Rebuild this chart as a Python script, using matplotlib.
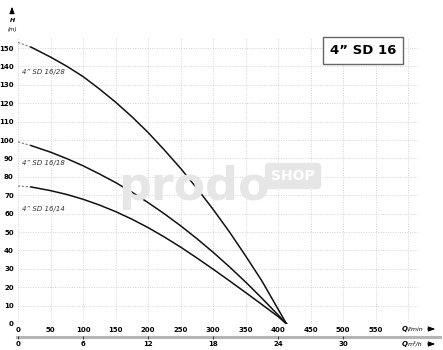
import matplotlib
matplotlib.use("Agg")
import matplotlib.pyplot as plt
from matplotlib.lines import Line2D

# flow in l/min and head in m
q = [0, 20, 50, 75, 100, 125, 150, 175, 200, 225, 250, 275, 300, 325, 350, 375, 400, 413]
h_28 = [153, 150.5, 145.1, 140.1, 134.5, 127.8, 120.6, 112.7, 104.1, 94.6, 84.6, 73.8, 62.3, 50.1, 37, 23.4, 8, 0]
h_18 = [99, 97, 93.4, 89.9, 86, 81.6, 76.9, 71.7, 66, 59.9, 53.4, 46.4, 39, 31.1, 22.8, 14, 4.9, 0]
h_14 = [75, 74.5, 72.5, 70.4, 67.8, 64.7, 61.1, 57, 52.4, 47.3, 41.8, 35.9, 29.8, 23.5, 17.1, 10.6, 4, 0]
names = ["4\u201d SD 16/28", "4\u201d SD 16/18", "4\u201d SD 16/14"]
label_h = [137, 87.5, 62.5]

x_ticks = [0, 50, 100, 150, 200, 250, 300, 350, 400, 450, 500, 550]
y_ticks = [0, 10, 20, 30, 40, 50, 60, 70, 80, 90, 100, 110, 120, 130, 140, 150]
m3_ticks = [0, 6, 12, 18, 24, 30]

W, H = 443, 350
fig = plt.figure(figsize=(W / 100, H / 100), dpi=100)
ax = fig.add_axes([18 / W, 26 / H, 400 / W, 287 / H])
ax.set_xlim(0, 615)
ax.set_ylim(0, 156)

ax.set_xticks(x_ticks + [600])
ax.set_xticklabels([str(t) for t in x_ticks] + [""])
ax.set_yticks(y_ticks)
ax.grid(True, color="#d4d4d4", linestyle=(0, (1, 1.5)), linewidth=0.7)
ax.set_axisbelow(True)
for s in ax.spines.values():
    s.set_visible(False)
ax.tick_params(length=0, labelsize=5, pad=3)
for lab in ax.get_xticklabels() + ax.get_yticklabels():
    lab.set_fontweight("bold")
ax.tick_params(axis="x", pad=2)

# watermark
fig.text(118 / W, 1 - 200 / H, "prodo", fontsize=33, fontweight="bold",
         color="#e6e6e6", zorder=0)
fig.text(293 / W, 1 - 176 / H, "SHOP", fontsize=10, fontweight="bold", color="white",
         ha="center", va="center", zorder=1,
         bbox=dict(boxstyle="round,pad=0.45,rounding_size=0.3", fc="#e6e6e6", ec="none"))

for hv, name, ly in zip([h_28, h_18, h_14], names, label_h):
    ax.plot(q[:2], hv[:2], color="#777777", lw=0.8, linestyle=(0, (2, 1.5)))
    ax.plot(q[1:], hv[1:], color="#111111", lw=1.1)
    ax.text(6, ly, name, fontsize=5, style="italic", color="#333333", va="center")

# title box
ax.text(345 / 400, (324 - 50.5) / 287, "4\u201d SD 16", transform=ax.transAxes, fontsize=9.5,
        fontweight="bold", ha="center", va="center",
        bbox=dict(boxstyle="square,pad=0.5", fc="white", ec="#666666", lw=1))

# H (m) label and arrow
fig.text(12 / W, 1 - 22 / H, "H", fontsize=4.5, fontweight="bold", style="italic", ha="center")
fig.text(12 / W, 1 - 31 / H, "(m)", fontsize=4, style="italic", ha="center")
ax.annotate("", xy=(12, H - 4), xytext=(12, H - 16), xycoords="figure pixels",
            textcoords="figure pixels",
            arrowprops=dict(arrowstyle="-|>,head_width=0.15,head_length=0.4", color="black", lw=0.7))

# second axis m3/h
sec = ax.secondary_xaxis(-12 / 287, functions=(lambda x: x * 0.06, lambda x: x / 0.06))
sec.set_xticks(m3_ticks)
sec.spines["bottom"].set_visible(False)
sec.tick_params(length=2, width=0.5, labelsize=5, pad=1.5)
for lab in sec.get_xticklabels():
    lab.set_fontweight("bold")
fig.add_artist(Line2D([17 / W, 440 / W], [1 - 336.5 / H, 1 - 336.5 / H],
                      color="#b5b5b5", lw=2.2, zorder=0))

fig.text(402 / W, 1 - 329 / H, "Q", fontsize=5, fontweight="bold", style="italic", va="center")
fig.text(408 / W, 1 - 329 / H, "l/min", fontsize=4.5, style="italic", va="center")
fig.text(402 / W, 1 - 344 / H, "Q", fontsize=5, fontweight="bold", style="italic", va="center")
fig.text(408 / W, 1 - 344 / H, "m\u00b3/h", fontsize=4.5, style="italic", va="center")
for yy in (329, 344):
    ax.annotate("", xy=(438, H - yy), xytext=(425, H - yy), xycoords="figure pixels",
                textcoords="figure pixels",
                arrowprops=dict(arrowstyle="-|>,head_width=0.15,head_length=0.4",
                                color="black", lw=0.7))

fig.savefig("out.png", dpi=100)
